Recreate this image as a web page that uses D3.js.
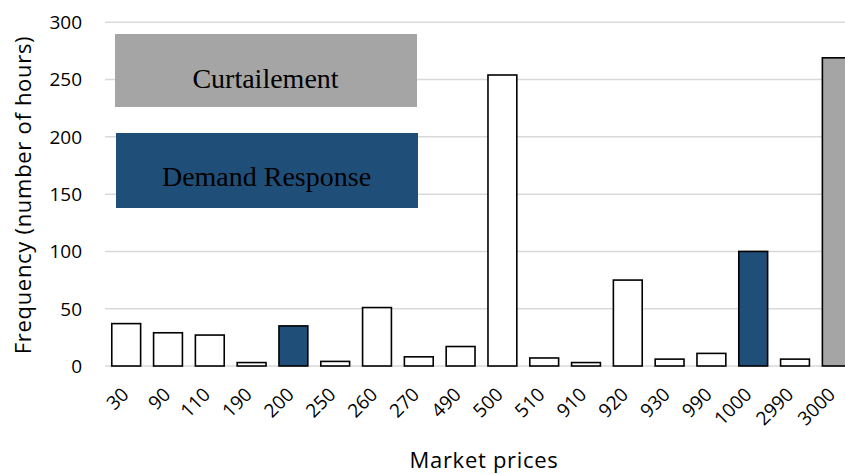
<!DOCTYPE html>
<html>
<head>
<meta charset="utf-8">
<script src="https://cdn.jsdelivr.net/npm/d3@7"></script>
<style>
  body { margin: 0; background: #fff; }
  svg { display: block; }
</style>
</head>
<body>
<svg id="chart"></svg>
<script>
const prices = ['30','90','110','190','200','250','260','270','490','500','510','910','920','930','990','1000','2990','3000'];
const hours  = [37, 29, 27, 3, 35, 4, 51, 8, 17, 254, 7, 3, 75, 6, 11, 100, 6, 269];
// which measure each price level triggers
const kind   = ['none','none','none','none','dr','none','none','none','none','none','none','none','none','none','none','dr','none','curt'];
const yTicks = [0, 50, 100, 150, 200, 250, 300];

const width = 845;
const height = 474;
const fillFor = {none: '#fff', dr: '#1f4e79', curt: '#a5a5a5'};

const svg = d3.select('#chart')
  .attr('width', width)
  .attr('height', height);

const x = d3.scaleBand()
  .domain(prices)
  .range([105.3, 857.7])
  .paddingInner(0.31)
  .paddingOuter(0.155);

const y = d3.scaleLinear()
  .domain([0, 300])
  .range([366, 22.3]);

// gridlines
svg.append('g')
  .selectAll('line')
  .data(yTicks)
  .join('line')
  .attr('x1', 105)
  .attr('x2', width)
  .attr('y1', d => y(d))
  .attr('y2', d => y(d))
  .style('stroke', '#d9d9d9')
  .style('stroke-width', 1.5);

// y tick labels
svg.append('g')
  .selectAll('text')
  .data(yTicks)
  .join('text')
  .attr('x', 82)
  .attr('y', d => y(d))
  .attr('dy', '0.36em')
  .attr('text-anchor', 'end')
  .style('font-family', '"Open Sans", sans-serif')
  .style('font-size', '19px')
  .style('fill', '#000')
  .text(d => d);

// bars
svg.append('g')
  .selectAll('rect')
  .data(prices)
  .join('rect')
  .attr('x', d => x(d))
  .attr('width', x.bandwidth())
  .attr('y', (d, i) => y(hours[i]))
  .attr('height', (d, i) => y(0) - y(hours[i]))
  .style('fill', (d, i) => fillFor[kind[i]])
  .style('stroke', '#000')
  .style('stroke-width', 1.6);

// x tick labels, longer labels sit a bit further left (like excel does)
svg.append('g')
  .selectAll('text')
  .data(prices)
  .join('text')
  .attr('transform', d => `translate(${x(d) + x.bandwidth() / 2 + 3 - 2 * d.length},${391}) rotate(-45)`)
  .attr('text-anchor', 'end')
  .attr('dy', '0.35em')
  .style('font-family', '"Open Sans", sans-serif')
  .style('font-size', '19px')
  .style('fill', '#000')
  .text(d => d);

// axis titles
svg.append('text')
  .attr('x', 484)
  .attr('y', 468)
  .attr('text-anchor', 'middle')
  .style('font-family', '"Open Sans", sans-serif')
  .style('font-size', '22px')
  .style('letter-spacing', '0.7px')
  .text('Market prices');

svg.append('text')
  .attr('transform', 'translate(31,195) rotate(-90)')
  .attr('text-anchor', 'middle')
  .style('font-family', '"Open Sans", sans-serif')
  .style('font-size', '22px')
  .style('letter-spacing', '0.7px')
  .text('Frequency (number of hours)');

// annotation boxes
const notes = [
  {label: 'Curtailement', fill: '#a5a5a5', x0: 115, y0: 34, w: 302, h: 73, ty: 88},
  {label: 'Demand Response', fill: '#1f4e79', x0: 116, y0: 133, w: 302, h: 75, ty: 186}
];

const note = svg.append('g')
  .selectAll('g')
  .data(notes)
  .join('g');

note.append('rect')
  .attr('x', d => d.x0)
  .attr('y', d => d.y0)
  .attr('width', d => d.w)
  .attr('height', d => d.h)
  .style('fill', d => d.fill);

note.append('text')
  .attr('x', d => d.x0 + d.w / 2 - 0.5)
  .attr('y', d => d.ty)
  .attr('text-anchor', 'middle')
  .style('font-family', '"Liberation Serif", "Times New Roman", serif')
  .style('font-size', '28px')
  .style('fill', '#000')
  .text(d => d.label);
</script>
</body>
</html>
